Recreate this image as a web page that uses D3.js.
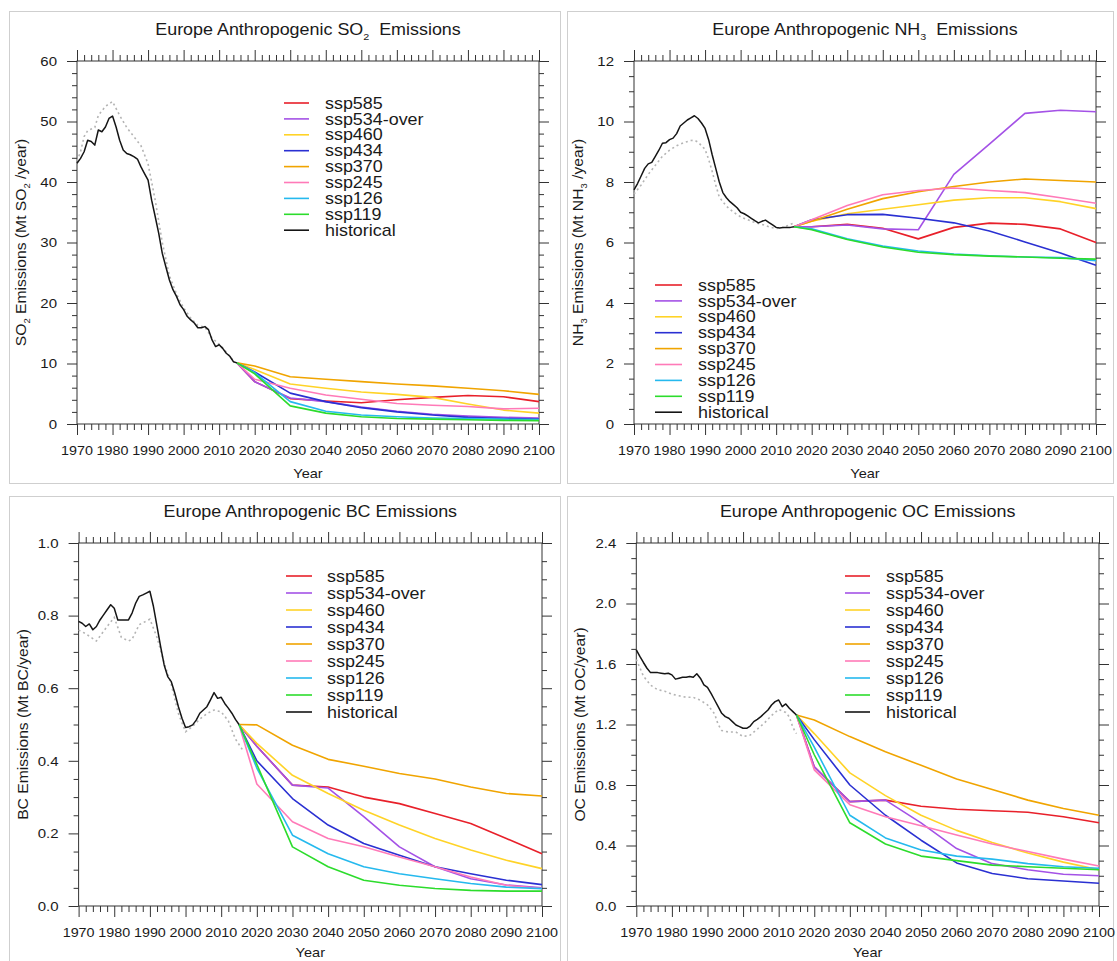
<!DOCTYPE html>
<html><head><meta charset="utf-8">
<script src="https://cdn.jsdelivr.net/npm/d3@7"></script>
<style>body{margin:0;background:#fff;} svg{display:block;}</style>
</head><body>
<svg id="chart" width="1117" height="961"></svg>
<script>
// ---------------- DATA ----------------
const scenarios = ["ssp585","ssp534-over","ssp460","ssp434","ssp370","ssp245","ssp126","ssp119"];
const legendLabels = ["ssp585","ssp534-over","ssp460","ssp434","ssp370","ssp245","ssp126","ssp119","historical"];
const sspYears = [2015,2020,2030,2040,2050,2060,2070,2080,2090,2100];
const histYears = [1970,1971,1972,1973,1974,1975,1976,1977,1978,1979,1980,1981,1982,1983,1984,1985,1986,1987,1988,1989,
  1990,1991,1992,1993,1994,1995,1996,1997,1998,1999,2000,2001,2002,2003,2004,2005,2006,2007,2008,2009,
  2010,2011,2012,2013,2014,2015];
const xTickYears = [1970,1980,1990,2000,2010,2020,2030,2040,2050,2060,2070,2080,2090,2100];

// SO2
const so2Hist = [43.1,43.9,45.0,46.9,46.7,46.1,48.6,48.3,49.1,50.5,50.9,49.1,46.9,45.3,44.7,44.5,44.2,43.8,42.5,41.4,
  40.3,37.0,34.3,31.5,28.2,26.0,23.8,22.2,21.1,19.7,18.9,17.8,17.2,16.7,15.9,15.9,16.1,15.6,13.9,12.8,
  13.1,12.5,11.7,11.2,10.3,10.1];
const so2RefYears = [1970,1971,1972,1973,1975,1976,1978,1980,1982,1984,1986,1988,1990,1992,1994,1996,1998,2000,2002,2004,2006,2008,2010,2012,2014];
const so2Ref = [43.5,45.0,47.5,48.5,49.0,51.0,52.5,53.3,51.0,49.0,47.5,46.0,43.0,37.0,30.0,24.5,21.5,19.2,17.5,16.3,16.0,14.2,13.2,11.9,10.5];
const so2_ssp585 = [10.1,7.0,4.2,3.8,3.5,4.0,4.4,4.7,4.5,3.7];
const so2_ssp534 = [10.1,7.0,4.3,3.7,2.8,2.1,1.6,1.3,1.1,1.0];
const so2_ssp460 = [10.1,9.0,6.6,5.9,5.3,4.9,4.4,3.3,2.3,1.8];
const so2_ssp434 = [10.1,8.6,5.1,3.7,2.7,2.0,1.5,1.1,0.9,0.8];
const so2_ssp370 = [10.1,9.6,7.8,7.4,7.0,6.6,6.3,5.9,5.5,4.9];
const so2_ssp245 = [10.1,7.4,5.9,4.8,4.1,3.4,3.1,2.9,2.5,2.6];
const so2_ssp126 = [10.1,8.5,3.7,2.1,1.5,1.2,1.0,0.9,0.8,0.75];
const so2_ssp119 = [10.1,8.3,3.0,1.8,1.2,0.9,0.8,0.7,0.6,0.55];
const so2YTicks = [0,10,20,30,40,50,60];

// NH3
const nh3Hist = [7.74,7.95,8.2,8.45,8.6,8.65,8.85,9.05,9.28,9.3,9.4,9.45,9.6,9.85,9.95,10.05,10.12,10.19,10.1,9.95,
  9.77,9.4,8.9,8.45,8.0,7.65,7.48,7.35,7.25,7.15,7.0,6.95,6.88,6.8,6.72,6.65,6.7,6.74,6.66,6.58,
  6.5,6.48,6.5,6.5,6.5,6.52];
const nh3RefYears = [1970,1972,1974,1976,1978,1980,1982,1984,1986,1987,1988,1990,1991,1992,1993,1994,1996,1998,2000,2002,2004,2006,2008,2010,2012,2014,2015];
const nh3Ref = [7.6,7.9,8.25,8.55,8.85,9.05,9.2,9.3,9.37,9.38,9.32,9.08,8.75,8.35,7.9,7.5,7.2,7.0,6.85,6.75,6.66,6.6,6.52,6.46,6.5,6.6,6.65];
const nh3_ssp585 = [6.52,6.52,6.6,6.47,6.12,6.5,6.64,6.6,6.45,6.0];
const nh3_ssp534 = [6.52,6.52,6.58,6.45,6.42,8.25,9.25,10.27,10.37,10.32];
const nh3_ssp460 = [6.52,6.7,6.95,7.1,7.25,7.4,7.48,7.48,7.35,7.12];
const nh3_ssp434 = [6.52,6.75,6.92,6.93,6.8,6.65,6.38,6.02,5.65,5.25];
const nh3_ssp370 = [6.52,6.7,7.1,7.45,7.68,7.85,8.0,8.1,8.05,8.0];
const nh3_ssp245 = [6.52,6.75,7.22,7.58,7.72,7.8,7.72,7.65,7.48,7.3];
const nh3_ssp126 = [6.52,6.45,6.12,5.88,5.72,5.62,5.56,5.52,5.5,5.4];
const nh3_ssp119 = [6.52,6.42,6.1,5.85,5.68,5.6,5.55,5.52,5.48,5.45];
const nh3YTicks = [0,2,4,6,8,10,12];

// BC
const bcHist = [0.784,0.779,0.77,0.777,0.761,0.77,0.788,0.802,0.816,0.83,0.82,0.788,0.788,0.788,0.788,0.807,0.834,0.853,0.857,0.862,
  0.867,0.825,0.77,0.715,0.664,0.632,0.618,0.586,0.549,0.517,0.492,0.494,0.499,0.512,0.531,0.54,0.549,0.568,0.588,0.572,
  0.575,0.558,0.545,0.531,0.514,0.5];
const bcRefYears = [1970,1972,1975,1978,1980,1982,1984,1985,1987,1990,1992,1994,1996,1998,2000,2002,2004,2006,2008,2010,2012,2014,2016];
const bcRef = [0.76,0.75,0.73,0.77,0.795,0.74,0.73,0.735,0.775,0.79,0.74,0.67,0.61,0.53,0.48,0.495,0.515,0.53,0.54,0.535,0.51,0.46,0.43];
const bc_ssp585 = [0.5,0.44,0.333,0.328,0.30,0.282,0.255,0.227,0.186,0.144];
const bc_ssp534 = [0.5,0.44,0.333,0.325,0.246,0.163,0.108,0.075,0.058,0.05];
const bc_ssp460 = [0.5,0.448,0.36,0.31,0.264,0.223,0.186,0.154,0.126,0.103];
const bc_ssp434 = [0.5,0.40,0.296,0.223,0.172,0.14,0.108,0.089,0.071,0.059];
const bc_ssp370 = [0.5,0.499,0.443,0.404,0.385,0.365,0.35,0.328,0.31,0.303];
const bc_ssp245 = [0.5,0.336,0.232,0.186,0.163,0.135,0.108,0.08,0.057,0.048];
const bc_ssp126 = [0.5,0.38,0.195,0.144,0.108,0.089,0.075,0.062,0.052,0.048];
const bc_ssp119 = [0.5,0.39,0.163,0.108,0.071,0.057,0.048,0.043,0.041,0.041];
const bcYTicks = [0,0.2,0.4,0.6,0.8,1.0];

// OC
const ocHist = [1.694,1.65,1.61,1.572,1.543,1.543,1.543,1.539,1.535,1.539,1.528,1.5,1.506,1.512,1.512,1.517,1.512,1.535,1.506,1.462,
  1.446,1.406,1.362,1.318,1.274,1.252,1.241,1.219,1.197,1.186,1.175,1.175,1.19,1.219,1.234,1.252,1.274,1.296,1.329,1.351,
  1.362,1.318,1.336,1.307,1.285,1.263];
const ocRefYears = [1970,1972,1974,1976,1978,1980,1982,1984,1986,1988,1990,1992,1993,1994,1996,1998,2000,2002,2004,2006,2008,2010,2012,2013,2014,2015];
const ocRef = [1.63,1.52,1.46,1.43,1.42,1.40,1.39,1.38,1.38,1.36,1.33,1.27,1.2,1.16,1.15,1.15,1.12,1.13,1.17,1.21,1.26,1.3,1.28,1.25,1.18,1.14];
const oc_ssp585 = [1.263,0.92,0.69,0.70,0.66,0.64,0.63,0.62,0.59,0.55];
const oc_ssp534 = [1.263,0.92,0.69,0.70,0.55,0.38,0.28,0.24,0.21,0.2];
const oc_ssp460 = [1.263,1.14,0.88,0.73,0.6,0.5,0.42,0.35,0.29,0.24];
const oc_ssp434 = [1.263,1.1,0.8,0.6,0.435,0.285,0.215,0.18,0.165,0.15];
const oc_ssp370 = [1.263,1.23,1.12,1.02,0.93,0.84,0.77,0.70,0.645,0.6];
const oc_ssp245 = [1.263,0.9,0.67,0.59,0.53,0.47,0.41,0.36,0.31,0.265];
const oc_ssp126 = [1.263,1.05,0.6,0.45,0.37,0.33,0.31,0.28,0.26,0.25];
const oc_ssp119 = [1.263,1.0,0.55,0.41,0.33,0.3,0.27,0.26,0.25,0.24];
const ocYTicks = [0,0.4,0.8,1.2,1.6,2.0,2.4];

// ---------------- STYLE ----------------
const scenarioColors = ["#e8202a","#a452e6","#ffd327","#2a30d2","#f0a400","#ff7ab8","#25b9ee","#2cdc2c"];
const histColor = "#151515";
const FONT = "'Liberation Sans', Arial, Helvetica, sans-serif";
const SX = 1.12;

const panels = [
  { title:["Europe Anthropogenic SO",["2"],"  Emissions"], ylab:["SO",["2"]," Emissions (Mt SO",["2"]," /year)"],
    ymax:60, yticks:so2YTicks, yminor:2, fmt:d3.format("d"),
    hist:so2Hist, refYears:so2RefYears, ref:so2Ref,
    ssp:[so2_ssp585,so2_ssp534,so2_ssp460,so2_ssp434,so2_ssp370,so2_ssp245,so2_ssp126,so2_ssp119],
    box:[9.5,11.5,551,472], plot:[77,539,61,424], yearDy:53.5, legend:{x1:284,x2:309,tx:325,y0:103,dy:15.9} },
  { title:["Europe Anthropogenic NH",["3"],"  Emissions"], ylab:["NH",["3"]," Emissions (Mt NH",["3"]," /year)"],
    ymax:12, yticks:nh3YTicks, yminor:0.5, fmt:d3.format("d"),
    hist:nh3Hist, refYears:nh3RefYears, ref:nh3Ref,
    ssp:[nh3_ssp585,nh3_ssp534,nh3_ssp460,nh3_ssp434,nh3_ssp370,nh3_ssp245,nh3_ssp126,nh3_ssp119],
    box:[567.5,11.5,546,472], plot:[634,1096,61,424], yearDy:53.5, legend:{x1:655,x2:682,tx:698,y0:285,dy:15.9} },
  { title:["Europe Anthropogenic BC Emissions"], ylab:["BC Emissions (Mt BC/year)"],
    ymax:1.0, yticks:bcYTicks, yminor:0.05, fmt:d3.format(".1f"),
    hist:bcHist, refYears:bcRefYears, ref:bcRef,
    ssp:[bc_ssp585,bc_ssp534,bc_ssp460,bc_ssp434,bc_ssp370,bc_ssp245,bc_ssp126,bc_ssp119],
    box:[9.5,496.5,551,470], plot:[78.6,542,543,906], yearDy:50.5, legend:{x1:286,x2:312,tx:327,y0:576,dy:17} },
  { title:["Europe Anthropogenic OC Emissions"], ylab:["OC Emissions (Mt OC/year)"],
    ymax:2.4, yticks:ocYTicks, yminor:0.1, fmt:d3.format(".1f"),
    hist:ocHist, refYears:ocRefYears, ref:ocRef,
    ssp:[oc_ssp585,oc_ssp534,oc_ssp460,oc_ssp434,oc_ssp370,oc_ssp245,oc_ssp126,oc_ssp119],
    box:[567.5,496.5,546,470], plot:[636.3,1099,543,906], yearDy:50.5, legend:{x1:845,x2:870,tx:886,y0:576,dy:17} }
];

const svg = d3.select("#chart");
svg.append("rect").attr("width",1117).attr("height",961).attr("fill","#fff");

function addText(parent, x, y, parts, size, anchor, rot, color) {
  const t = parent.append("text")
    .attr("transform", `translate(${x},${y})` + (rot ? ` rotate(${rot})` : "") + ` scale(${SX},1)`)
    .attr("text-anchor", anchor).attr("font-size", size).attr("font-family", FONT)
    .attr("fill", color || "#1a1a1a").style("white-space", "pre");
  let shifted = false;
  parts.forEach(p => {
    const isSub = Array.isArray(p);
    const ts = t.append("tspan").text(isSub ? p[0] : p);
    if (isSub) { ts.attr("font-size", size * 0.6).attr("dy", size * 0.3); shifted = true; }
    else if (shifted) { ts.attr("dy", -size * 0.3); shifted = false; }
  });
  return t;
}

panels.forEach(P => {
  const g = svg.append("g");
  // panel border
  g.append("rect").attr("x",P.box[0]).attr("y",P.box[1]).attr("width",P.box[2]).attr("height",P.box[3])
    .attr("fill","none").attr("stroke","#cfcfcf").attr("stroke-width",1);

  const [x0,x1,y0,y1] = P.plot;
  const x = d3.scaleLinear().domain([1970,2100]).range([x0,x1]);
  const y = d3.scaleLinear().domain([0,P.ymax]).range([y1,y0]);

  const minorX = d3.range(1970, 2101, 2).filter(v => v % 10 !== 0);
  const nMinY = Math.round(P.ymax / P.yminor);
  const minorY = d3.range(0, nMinY + 1).map(i => i * P.yminor).filter(v => !P.yticks.some(t => Math.abs(t - v) < 1e-9));

  const axStyle = sel => { sel.select(".domain").remove(); sel.selectAll("line").attr("stroke","#333").attr("stroke-width",1); sel.selectAll("text").remove(); };
  // major/minor ticks all four sides, outward
  g.append("g").attr("transform",`translate(0,${y1})`).call(d3.axisBottom(x).tickValues(xTickYears).tickSize(11)).call(axStyle);
  g.append("g").attr("transform",`translate(0,${y1})`).call(d3.axisBottom(x).tickValues(minorX).tickSize(6)).call(axStyle);
  g.append("g").attr("transform",`translate(0,${y0})`).call(d3.axisTop(x).tickValues(xTickYears).tickSize(11)).call(axStyle);
  g.append("g").attr("transform",`translate(0,${y0})`).call(d3.axisTop(x).tickValues(minorX).tickSize(6)).call(axStyle);
  g.append("g").attr("transform",`translate(${x0},0)`).call(d3.axisLeft(y).tickValues(P.yticks).tickSize(10)).call(axStyle);
  g.append("g").attr("transform",`translate(${x0},0)`).call(d3.axisLeft(y).tickValues(minorY).tickSize(5)).call(axStyle);
  g.append("g").attr("transform",`translate(${x1},0)`).call(d3.axisRight(y).tickValues(P.yticks).tickSize(10)).call(axStyle);
  g.append("g").attr("transform",`translate(${x1},0)`).call(d3.axisRight(y).tickValues(minorY).tickSize(5)).call(axStyle);

  // frame
  g.append("rect").attr("x",x0).attr("y",y0).attr("width",x1-x0).attr("height",y1-y0)
    .attr("fill","none").attr("stroke","#333").attr("stroke-width",1);

  // tick labels
  xTickYears.forEach(v => addText(g, x(v), y1 + 30.5, [String(v)], 12.8, "middle"));
  P.yticks.forEach(v => addText(g, x0 - 20, y(v) + 4.8, [P.fmt(v)], 13.4, "end"));

  // titles
  addText(g, (x0+x1)/2, y0 - 26, P.title, 16, "middle");
  addText(g, (x0+x1)/2, y1 + P.yearDy, ["Year"], 13, "middle");
  addText(g, x0 - 51, (y0+y1)/2, P.ylab, 14, "middle", -90);

  // lines
  const line = d3.line().x(d => x(d[0])).y(d => y(d[1]));
  g.append("path").datum(d3.zip(P.refYears, P.ref)).attr("d", line)
    .attr("fill","none").attr("stroke","#b4b4b4").attr("stroke-width",1.6).attr("stroke-dasharray","2,3");
  P.ssp.forEach((vals, i) => {
    g.append("path").datum(d3.zip(sspYears, vals)).attr("d", line)
      .attr("fill","none").attr("stroke",scenarioColors[i]).attr("stroke-width",1.6).attr("stroke-linejoin","round");
  });
  g.append("path").datum(d3.zip(histYears, P.hist)).attr("d", line)
    .attr("fill","none").attr("stroke",histColor).attr("stroke-width",1.5).attr("stroke-linejoin","round");

  // legend
  const L = P.legend;
  legendLabels.forEach((lab, i) => {
    const yy = L.y0 + i * L.dy;
    const c = i < scenarios.length ? scenarioColors[i] : histColor;
    g.append("line").attr("x1",L.x1).attr("x2",L.x2).attr("y1",yy).attr("y2",yy)
      .attr("stroke",c).attr("stroke-width",1.6);
    addText(g, L.tx, yy + 5.6, [lab], 16, "start");
  });
});
</script>
</body></html>
